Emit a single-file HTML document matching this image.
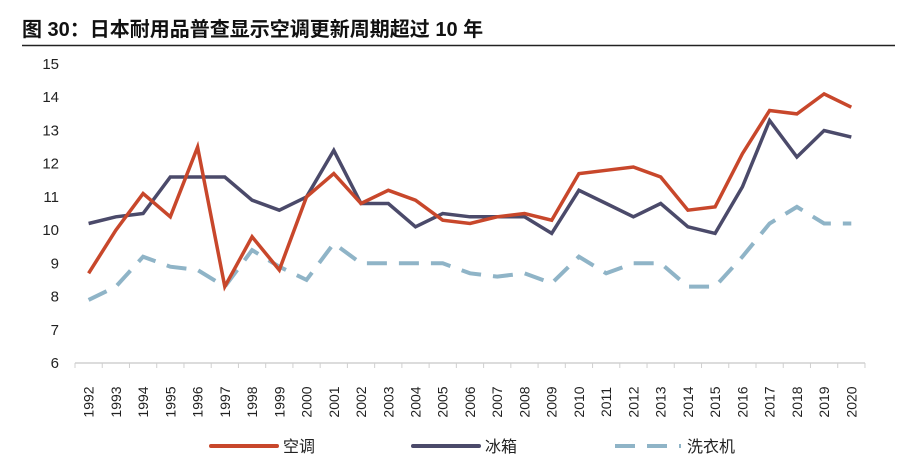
<!DOCTYPE html>
<html><head><meta charset="utf-8"><style>
body{margin:0;background:#fff;width:919px;height:460px;overflow:hidden}
</style></head><body>
<svg width="919" height="460" xmlns="http://www.w3.org/2000/svg" font-family="Liberation Sans, Noto Sans CJK SC, sans-serif">
<text x="22" y="36" font-size="20" font-weight="bold" fill="#111" font-family="Liberation Sans, Noto Sans CJK SC, sans-serif">图 30：日本耐用品普查显示空调更新周期超过 10 年</text>
<line x1="22" y1="45.5" x2="895" y2="45.5" stroke="#222" stroke-width="1.5"/>
<g font-size="15" fill="#222" text-anchor="end" id="yl"></g>
<line x1="75" y1="363" x2="865" y2="363" stroke="#d0d0d0" stroke-width="1.5"/>
<g id="ticks" stroke="#d0d0d0" stroke-width="1"></g>
<g id="xl" font-size="14" fill="#222"></g>
<polyline id="w" fill="none" stroke="#8FB4C7" stroke-width="4" stroke-dasharray="20,12"/>
<polyline id="f" fill="none" stroke="#4B4A6A" stroke-width="3.5"/>
<polyline id="a" fill="none" stroke="#C8472B" stroke-width="3.5"/>
<line x1="211" y1="446" x2="277" y2="446" stroke="#C8472B" stroke-width="4" stroke-linecap="round"/>
<text x="283" y="452" font-size="16" fill="#222">空调</text>
<line x1="413" y1="446" x2="479" y2="446" stroke="#4B4A6A" stroke-width="4" stroke-linecap="round"/>
<text x="485" y="452" font-size="16" fill="#222">冰箱</text>
<line x1="615" y1="446" x2="681" y2="446" stroke="#8FB4C7" stroke-width="4" stroke-dasharray="20,12"/>
<text x="687" y="452" font-size="16" fill="#222">洗衣机</text>
</svg>
<script>
const ns="http://www.w3.org/2000/svg";
const Y=v=>363-(v-6)*33.22, X=i=>75+27.24*(i+0.5);
const yl=document.getElementById('yl');
for(let v=6;v<=15;v++){const t=document.createElementNS(ns,'text');t.setAttribute('x',59);t.setAttribute('y',Y(v)+5);t.textContent=v;yl.appendChild(t);}
const tk=document.getElementById('ticks'),xl=document.getElementById('xl');
for(let i=0;i<=29;i++){const l=document.createElementNS(ns,'line');const x=75+27.24*i;l.setAttribute('x1',x);l.setAttribute('x2',x);l.setAttribute('y1',363);l.setAttribute('y2',368);tk.appendChild(l);}
for(let i=0;i<29;i++){const t=document.createElementNS(ns,'text');const x=X(i)+5,y=402;t.setAttribute('transform',`translate(${x},${y}) rotate(-90)`);t.setAttribute('text-anchor','middle');t.textContent=1992+i;xl.appendChild(t);}
const A=[8.7,10,11.1,10.4,12.5,8.3,9.8,8.8,11,11.7,10.8,11.2,10.9,10.3,10.2,10.4,10.5,10.3,11.7,11.8,11.9,11.6,10.6,10.7,12.3,13.6,13.5,14.1,13.7];
const F=[10.2,10.4,10.5,11.6,11.6,11.6,10.9,10.6,11,12.4,10.8,10.8,10.1,10.5,10.4,10.4,10.4,9.9,11.2,10.8,10.4,10.8,10.1,9.9,11.3,13.3,12.2,13,12.8];
const W=[7.9,8.3,9.2,8.9,8.8,8.3,9.4,8.9,8.5,9.6,9,9,9,9,8.7,8.6,8.7,8.4,9.2,8.7,9,9,8.3,8.3,9.2,10.2,10.7,10.2,10.2];
const p=d=>d.map((v,i)=>X(i).toFixed(1)+','+Y(v).toFixed(1)).join(' ');
document.getElementById('a').setAttribute('points',p(A));
document.getElementById('f').setAttribute('points',p(F));
document.getElementById('w').setAttribute('points',p(W));
</script>
</body></html>
